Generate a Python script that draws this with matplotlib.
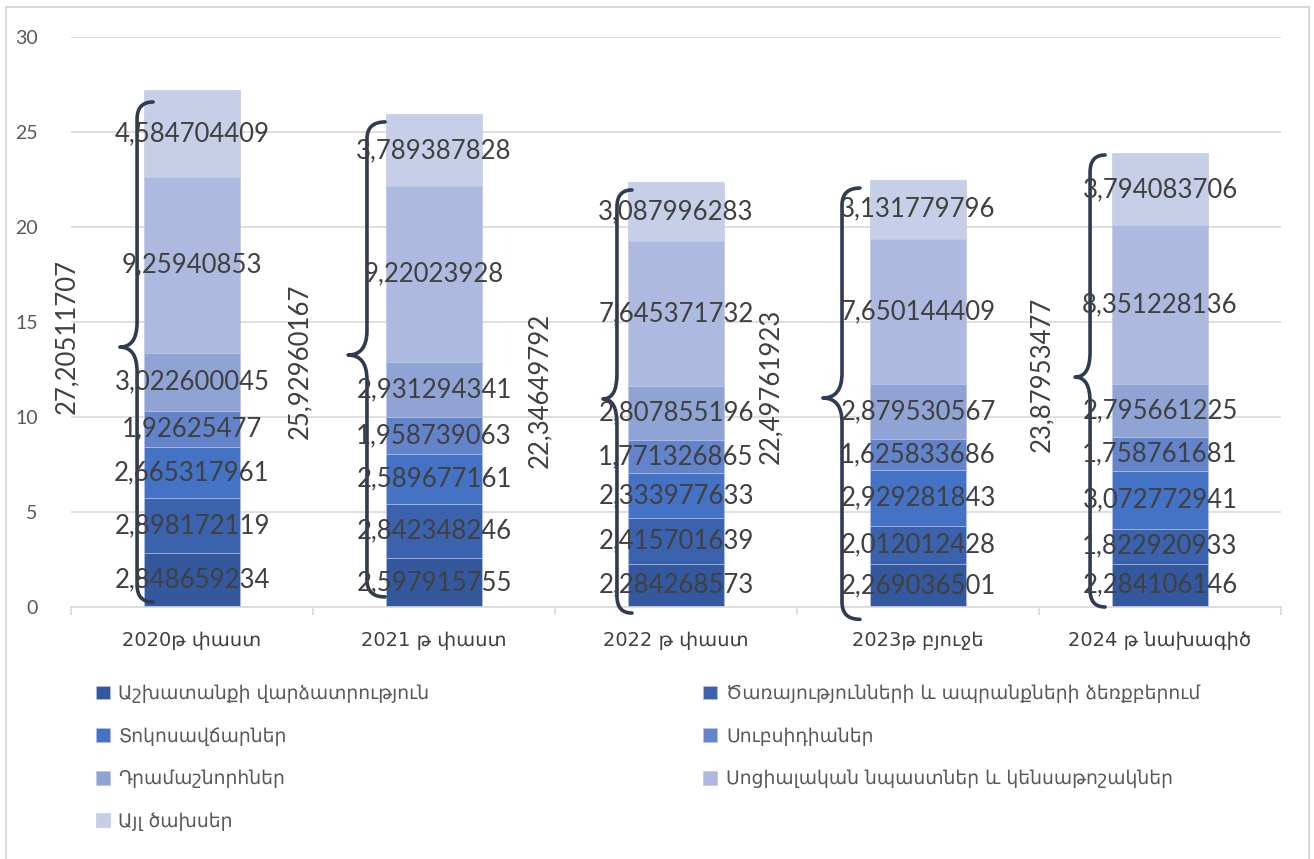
import numpy as np
import matplotlib.pyplot as plt
from matplotlib.path import Path
from matplotlib.patches import PathPatch
from matplotlib.lines import Line2D

categories = ['2020թ փաստ', '2021 թ փաստ', '2022 թ փաստ', '2023թ բյուջե', '2024 թ նախագիծ']
series_names = ['Աշխատանքի վարձատրություն',
                'Ծառայությունների և ապրանքների ձեռքբերում',
                'Տոկոսավճարներ',
                'Սուբսիդիաներ',
                'Դրամաշնորհներ',
                'Սոցիալական նպաստներ և կենսաթոշակներ',
                'Այլ ծախսեր']
wages = [2.848659234, 2.597915755, 2.284268573, 2.269036501, 2.284106146]
goods_services = [2.898172119, 2.842348246, 2.415701639, 2.012012428, 1.822920933]
interest = [2.665317961, 2.589677161, 2.333977633, 2.929281843, 3.072772941]
subsidies = [1.92625477, 1.958739063, 1.771326865, 1.625833686, 1.758761681]
grants = [3.022600045, 2.931294341, 2.807855196, 2.879530567, 2.795661225]
social = [9.25940853, 9.22023928, 7.645371732, 7.650144409, 8.351228136]
other = [4.584704409, 3.789387828, 3.087996283, 3.131779796, 3.794083706]
totals = [27.20511707, 25.92960167, 22.34649792, 22.49761923, 23.87953477]

series = [wages, goods_services, interest, subsidies, grants, social, other]
colors = ['#34589E', '#3A62AD', '#4472C4', '#6384CB', '#8FA3D4', '#ADB9DF', '#C7CEE7']

# brace layout (x offsets from bar centre, y in data units) - hand drawn in the original
brace_vline = [-0.227, -0.277, -0.244, -0.314, -0.289]
brace_tipx = [-0.298, -0.355, -0.302, -0.393, -0.351]
brace_hook = [-0.161, -0.202, -0.182, -0.240, -0.227]
brace_top = [26.58, 25.53, 21.95, 22.05, 23.79]
brace_bot = [0.26, 0.53, -0.32, -0.65, 0.0]
brace_tipy = [13.68, 13.26, 10.95, 11.0, 12.1]
total_x = [-0.517, 0.446, 1.438, 2.389, 3.512]
total_y = [14.26, 12.95, 11.4, 11.63, 12.26]

num_font = ['Lato', 'DejaVu Sans']
arm_font = ['DejaVu Sans']


def fmt(v):
    return ('%.10g' % v).replace('.', ',')


def brace(ax, xv, xt, xh, top, bot, tipy, re=0.9, rm=1.3):
    verts = [(xh, top), (xv, top), (xv, top - re),
             (xv, tipy + rm), (xv, tipy), (xt, tipy),
             (xv, tipy), (xv, tipy - rm),
             (xv, bot + re), (xv, bot), (xh, bot)]
    codes = [Path.MOVETO, Path.CURVE3, Path.CURVE3,
             Path.LINETO, Path.CURVE3, Path.CURVE3,
             Path.CURVE3, Path.CURVE3,
             Path.LINETO, Path.CURVE3, Path.CURVE3]
    p = PathPatch(Path(verts, codes), facecolor='none', edgecolor='#2F3B50',
                  linewidth=2.6, capstyle='round', joinstyle='round', clip_on=False, zorder=4)
    ax.add_patch(p)


fig = plt.figure(figsize=(13.14, 8.59), dpi=100)
ax = fig.add_axes([71 / 1314, 1 - 607 / 859, 1210 / 1314, 570 / 859])

x = np.arange(len(categories))
bottom = np.zeros(len(categories))
handles = []
for vals, name, c in zip(series, series_names, colors):
    vals = np.array(vals)
    bars = ax.bar(x, vals, 0.4, bottom=bottom, color=c, edgecolor='#B9C4E4',
                  linewidth=0.4, label=name, zorder=2)
    handles.append(bars)
    for xi, b, v in zip(x, bottom, vals):
        ax.text(xi, b + v / 2, fmt(v), ha='center', va='center', fontsize=18.5,
                color='#404040', family=num_font, zorder=5)
    bottom += vals

for i in range(len(categories)):
    brace(ax, i + brace_vline[i], i + brace_tipx[i], i + brace_hook[i],
          brace_top[i], brace_bot[i], brace_tipy[i])
    ax.text(total_x[i], total_y[i], fmt(totals[i]), rotation=90, ha='center', va='center',
            fontsize=18.5, color='#404040', family=num_font, zorder=5)

ax.set_xlim(-0.5, 4.5)
ax.set_ylim(0, 30)
ax.set_yticks(range(0, 31, 5))
ax.set_xticks(x)
ax.set_xticklabels(categories, family=arm_font, fontsize=14, color='#404040')
ax.set_xticks(np.arange(-0.5, 5, 1), minor=True)
ax.tick_params(axis='x', which='major', length=0, pad=17)
ax.tick_params(axis='x', which='minor', length=6, color='#D9D9D9', width=1.2)
ax.tick_params(axis='y', length=0, pad=24, labelcolor='#595959', labelsize=14)
for lbl in ax.get_yticklabels():
    lbl.set_family(num_font)
ax.grid(axis='y', color='#D9D9D9', linewidth=1.2, zorder=0)
ax.set_axisbelow(True)
for s in ['top', 'right', 'left']:
    ax.spines[s].set_visible(False)
ax.spines['bottom'].set_color('#D9D9D9')
ax.spines['bottom'].set_linewidth(1.2)

order = [0, 2, 4, 6, 1, 3, 5]
leg = fig.legend([handles[k] for k in order], [series_names[k] for k in order],
                 loc='upper left', bbox_to_anchor=(96 / 1314, 1 - 684 / 859), ncol=2,
                 frameon=False, prop={'family': arm_font, 'size': 13.5},
                 handlelength=0.75, handleheight=0.75, handletextpad=0.45,
                 labelspacing=1.26, columnspacing=14.6, borderaxespad=0, borderpad=0)
for t in leg.get_texts():
    t.set_color('#595959')

# outer frame of the chart area
for xs, ys in [((6, 6), (859, 7)), ((6, 1309), (7, 7)), ((1309, 1309), (7, 859))]:
    fig.add_artist(Line2D([v / 1314 for v in xs], [1 - v / 859 for v in ys],
                          color='#D9D9D9', linewidth=1.5, transform=fig.transFigure))

fig.savefig('out.png', dpi=100)
